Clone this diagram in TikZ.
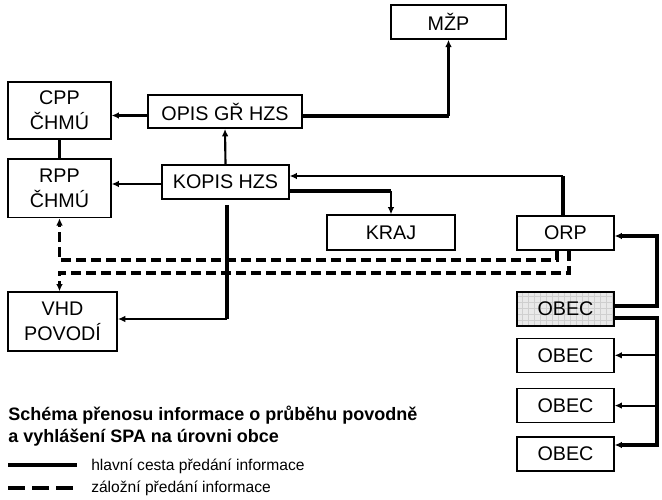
\documentclass[tikz,border=0pt]{standalone}
\usepackage{fontspec}
\setmainfont{Liberation Sans}
\usetikzlibrary{arrows.meta,positioning,calc,patterns.meta}

\begin{document}
\begin{tikzpicture}[
  x=0.75pt, y=-0.75pt,
  node distance=9.5pt,
  every node/.style={font=\fontsize{14.8}{18.7}\selectfont},
  box/.style={rectangle, draw, line width=1.2pt, inner sep=1pt, align=center},
  obecbox/.style={box, minimum width=72.5pt, minimum height=25.5pt},
  heavy/.style={line width=2.5pt},
  light/.style={line width=1.6pt},
  backup/.style={line width=2.4pt, dash pattern=on 7.5pt off 3.75pt},
  tip/.style={-{Latex[length=5.5pt,width=5pt]}},
  legend/.style={font=\fontsize{11.7}{14}\selectfont, inner sep=0pt}
]
\useasboundingbox (0,0) rectangle (662,500);

\node[box, minimum width=77pt, minimum height=43pt] (cpp) at (59.5,110.5) {CPP\\ČHMÚ};
\node[box, minimum width=77pt, minimum height=44pt, below=13.5pt of cpp] (rpp) {RPP\\ČHMÚ};
\node[box, minimum width=115.5pt, minimum height=25pt] (opis) at (225,111.5) {OPIS GŘ HZS};
\node[box, minimum width=95pt, minimum height=25.5pt] (kopis) at (225.5,182) {KOPIS HZS};
\node[box, minimum width=86pt, minimum height=25.5pt] (mzp) at (448.5,22) {MŽP};
\node[box, minimum width=96pt, minimum height=26pt] (kraj) at (391,232.5) {KRAJ};
\node[obecbox] (orp) at (565.5,233) {ORP};
\node[box, minimum width=82pt, minimum height=44pt] (vhd) at (62.5,321.5) {VHD\\POVODÍ};

\node[obecbox, preaction={fill=gray!17}, pattern={Hatch[angle=0,distance=4.5pt,line width=0.3pt]}, pattern color=gray!38] (obec1) at (565.5,309) {OBEC};
\node[obecbox, below=8.5pt of obec1] (obec2) {OBEC};
\node[obecbox, below=11pt of obec2] (obec3) {OBEC};
\node[obecbox, below=9.5pt of obec3] (obec4) {OBEC};

% bends
\coordinate (mzpbend) at (448.5,116);
\coordinate (krajbend) at (391,191);
\coordinate (orpup) at (563,176);
\coordinate (vhdbend) at (227,319);
\coordinate (backA) at (557,260);
\coordinate (backB) at (569,273);
\coordinate (railtop) at (657,236);
\coordinate (railbot) at (657,445);

\draw[heavy,tip] ($(opis.west)+(0,4)$) -- ($(cpp.east |- opis.west)+(0,4)$);
\draw[heavy] (opis.east |- mzpbend) -- (mzpbend);
\draw[light,tip] (mzpbend) -- (mzp.south);
\draw[light,tip] (kopis.north) -- (opis.south);
\draw[heavy] (cpp) -- (rpp);
\draw[light,tip] ($(kopis.west)+(0,2)$) -- ($(rpp.east |- kopis.west)+(0,2)$);

\draw[heavy] (orp.north -| orpup) -- (orpup);
\draw[light,tip] (orpup) -- (orpup -| kopis.east);
\draw[heavy] (kopis.east |- krajbend) -- (krajbend);
\draw[light,tip] (krajbend) -- (kraj.north);
\draw[heavy] ($(kopis.south -| vhdbend)+(0,5)$) -- (vhdbend);
\draw[light,tip] (vhdbend) -- (vhdbend -| vhd.east);

\draw[backup,tip] (orp.south -| backA) -- (backA) -- (backA -| rpp.south) -- (rpp.south);
\draw[backup,tip] (orp.south -| backB) -- (backB) -- (backB -| rpp.south) -- (rpp.south |- vhd.north);

\draw[heavy,tip] ($(obec1.east)+(0,-3)$) -| (railtop) -- (railtop -| orp.east);
\draw[heavy,tip] ($(obec1.east)+(0,9)$) -| (railbot) -- (railbot -| obec4.east);
\draw[light,tip] (railbot |- obec2.east) -- (obec2.east);
\draw[light,tip] (railbot |- obec3.east) -- (obec3.east);

% legend
\node[anchor=north west, inner sep=0pt, align=left, font=\fontsize{13.5}{16.5}\selectfont\bfseries] (title) at (8,406)
  {Schéma přenosu informace o průběhu povodně\\a vyhlášení SPA na úrovni obce};
\coordinate (solidA) at (8,465);
\coordinate (solidB) at (77,465);
\coordinate (dashA) at (8,488);
\coordinate (dashB) at (77,488);
\draw[heavy] (solidA) -- (solidB);
\draw[line width=2.5pt, dash pattern=on 12.5pt off 5.5pt] (dashA) -- (dashB);
\node[legend, anchor=base west] (mainlbl) at (91,470) {hlavní cesta předání informace};
\node[legend, anchor=base west] (backlbl) at (91,492) {záložní předání informace};
\end{tikzpicture}
\end{document}
